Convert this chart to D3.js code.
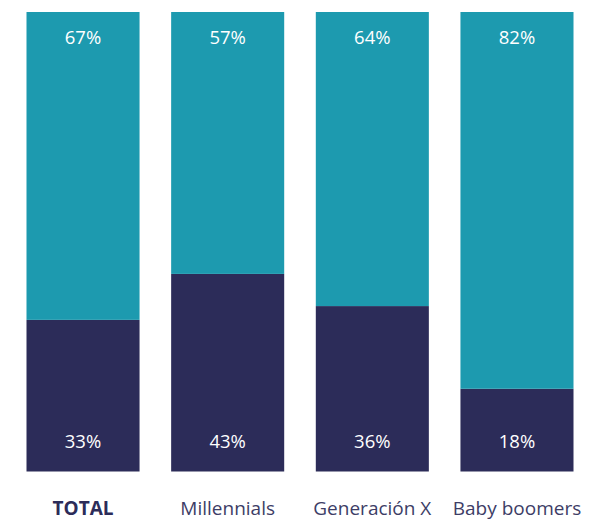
<!DOCTYPE html>
<html>
<head>
<meta charset="utf-8">
<script src="https://cdn.jsdelivr.net/npm/d3@7/dist/d3.min.js"></script>
<style>
  html, body { margin: 0; padding: 0; background: #fff; }
  svg { display: block; font-family: "Open Sans", sans-serif; }
</style>
</head>
<body>
<svg id="chart" width="589" height="523"></svg>
<script>
// Share of respondents by generation (percent)
const categories = ["TOTAL", "Millennials", "Generación X", "Baby boomers"];
const lowerValues = [33, 43, 36, 18];
const upperValues = [67, 57, 64, 82];

const seriesKeys = ["lower", "upper"];
const seriesColors = { lower: "#2c2c59", upper: "#1d9aaf" };

const rows = categories.map((c, i) => ({ category: c, lower: lowerValues[i], upper: upperValues[i] }));

const svg = d3.select("#chart");

const x = d3.scaleBand()
  .domain(categories)
  .range([26.5, 573.5])
  .paddingInner(0.2185)
  .paddingOuter(0);

const y = d3.scaleLinear()
  .domain([0, 100])
  .range([471.5, 12]);

const stack = d3.stack().keys(seriesKeys);
const layers = stack(rows);

const groups = svg.selectAll("g.layer")
  .data(layers)
  .join("g")
  .attr("class", "layer")
  .attr("fill", d => seriesColors[d.key]);

groups.selectAll("rect")
  .data(d => d.map(s => ({ s, key: d.key })))
  .join("rect")
  .attr("x", d => x(d.s.data.category))
  .attr("width", x.bandwidth())
  .attr("y", d => y(d.s[1]))
  .attr("height", d => y(d.s[0]) - y(d.s[1]));

// Value labels: lower segment near the bottom, upper segment near the top
const labels = svg.append("g")
  .attr("font-size", 18.5)
  .attr("font-weight", 500)
  .attr("fill", "#ffffff")
  .attr("text-anchor", "middle");

labels.selectAll("text.upper")
  .data(rows)
  .join("text")
  .attr("class", "upper")
  .attr("x", d => x(d.category) + x.bandwidth() / 2)
  .attr("y", y(100) + 31.5)
  .text(d => d.upper + "%");

labels.selectAll("text.lower")
  .data(rows)
  .join("text")
  .attr("class", "lower")
  .attr("x", d => x(d.category) + x.bandwidth() / 2)
  .attr("y", y(0) - 24)
  .text(d => d.lower + "%");

// Category axis
const axis = svg.append("g")
  .attr("transform", `translate(0, ${y(0)})`)
  .call(d3.axisBottom(x).tickSize(0).tickPadding(0));

axis.select(".domain").remove();
axis.selectAll("text")
  .attr("dy", null)
  .attr("y", 43.5)
  .attr("font-family", "'Open Sans', sans-serif")
  .attr("font-size", 19)
  .attr("fill", d => d === "TOTAL" ? "#2c2c59" : "#3d3d66")
  .attr("font-weight", d => d === "TOTAL" ? 700 : 400);
</script>
</body>
</html>
